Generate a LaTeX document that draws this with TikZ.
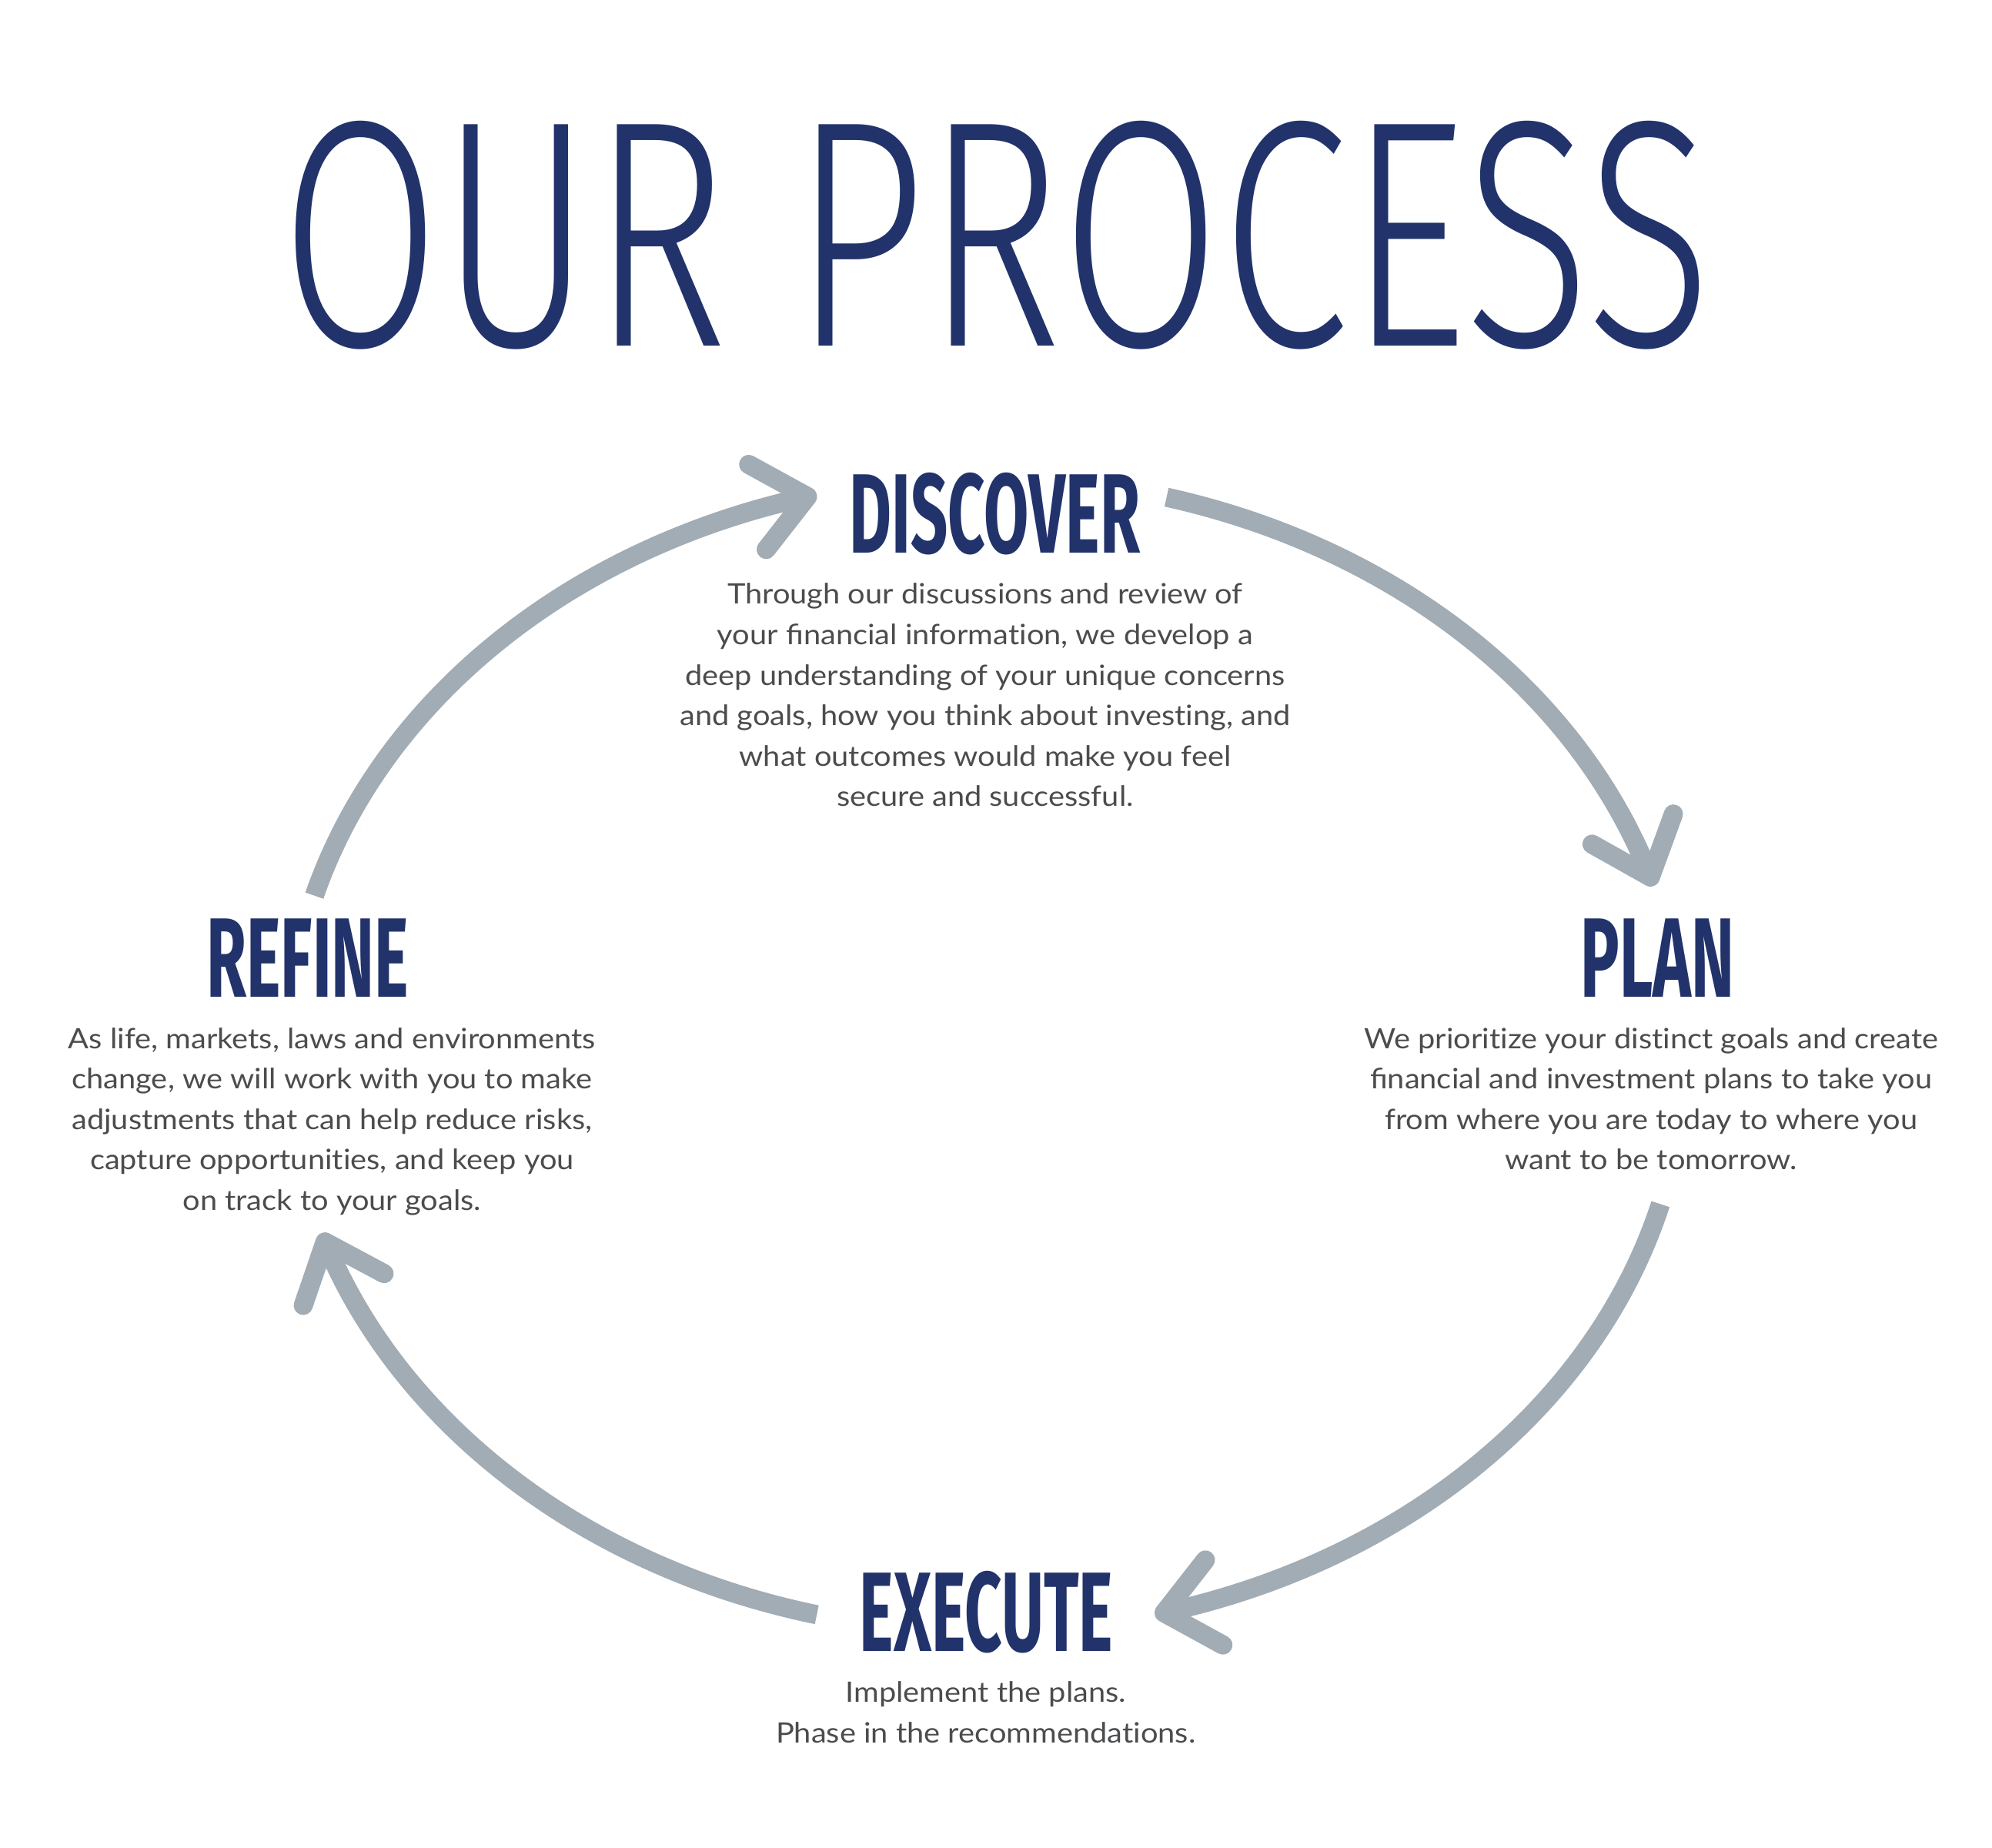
\documentclass[tikz,border=0pt]{standalone}
\usepackage{fontspec}
\usepackage{graphicx}
\setmainfont[FakeStretch=1.09, Ligatures=NoCommon]{Lato}
\newfontfamily\titlefont{Fira Sans Light}
\newfontfamily\headfont[FakeStretch=0.575]{Fira Sans}
\usetikzlibrary{arrows.meta,bending}
\definecolor{navy}{HTML}{22336B}
\definecolor{bodygray}{HTML}{4B4C4E}
\definecolor{arcgray}{HTML}{A2ACB4}

\begin{document}
\begin{tikzpicture}[x=1pt,y=-1pt,
		heading/.style={font=\headfont\bfseries\fontsize{88.5}{88.5}\selectfont, text=navy, inner sep=0pt, anchor=base},
		desc/.style={font=\fontsize{22}{31.7}\selectfont, text=bodygray, align=center, inner sep=0pt, anchor=north},
		cyclearrow/.style={draw=arcgray, line width=15pt, -{Straight Barb[length=40pt,width=68pt,round]}}]
		\useasboundingbox (0,0) rectangle (1560,1447);
		\node[inner sep=0pt, text=navy] (title) at (780,184) {\resizebox{1119pt}{176pt}{\titlefont OUR PROCESS}};
		\node[heading] (discover) at (779,433) {DISCOVER};
		\node[heading] (plan) at (1298,781) {PLAN};
		\node[heading] (execute) at (772.5,1293) {EXECUTE};
		\node[heading] (refine) at (241,781) {REFINE};
		\node[desc] (discover-text) at (771.5,456.7) {Through our discussions and review of\\ your ﬁnancial information, we develop a\\ deep understanding of your unique concerns\\ and goals, how you think about investing, and\\ what outcomes would make you feel\\ secure and successful.};
		\node[desc] (plan-text) at (1293,804.7) {We prioritize your distinct goals and create\\ ﬁnancial and investment plans to take you\\ from where you are today to where you\\ want to be tomorrow.};
		\node[desc] (execute-text) at (772,1316.7) {Implement the plans.\\ Phase in the recommendations.};
		\node[desc] (refine-text) at (260,804.7) {As life, markets, laws and environments\\ change, we will work with you to make\\ adjustments that can help reduce risks,\\ capture opportunities, and keep you\\ on track to your goals.};
		% the cycle
		\coordinate (c) at (772,826);
		\coordinate (refine-out) at ([shift={(164:547pt and 452pt)}]c);
		\coordinate (discover-out) at ([shift={(75:547pt and 452pt)}]c);
		\coordinate (plan-out) at ([shift={(-15:547pt and 452pt)}]c);
		\coordinate (execute-out) at ([shift={(-104:547pt and 452pt)}]c);
		\draw[cyclearrow] (refine-out) arc[start angle=164, end angle=104, x radius=547pt, y radius=452pt];
		\draw[cyclearrow] (discover-out) arc[start angle=75, end angle=17, x radius=547pt, y radius=452pt];
		\draw[cyclearrow] (plan-out) arc[start angle=-15, end angle=-76, x radius=547pt, y radius=452pt];
		\draw[cyclearrow] (execute-out) arc[start angle=-104, end angle=-162, x radius=547pt, y radius=452pt];
	\end{tikzpicture}
\end{document}
